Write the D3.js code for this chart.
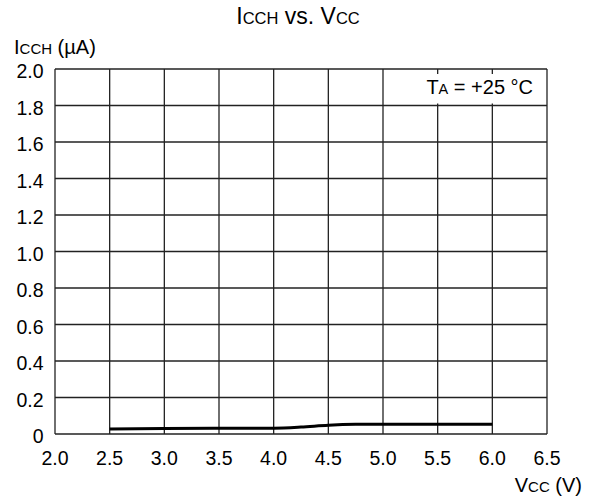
<!DOCTYPE html>
<html><head><meta charset="utf-8">
<script src="https://cdn.jsdelivr.net/npm/d3@7"></script>
<style>body{margin:0;background:#fff}svg{display:block;font-family:"Liberation Sans",Arial,sans-serif}</style>
</head><body>
<svg id="c" width="593" height="496"></svg>
<script>
const vcc = [2.5, 3.0, 3.5, 4.0, 4.25, 4.5, 4.75, 5.0, 5.5, 6.0];
const icch = [0.027, 0.030, 0.031, 0.032, 0.038, 0.048, 0.053, 0.054, 0.054, 0.054];
const xTicks = [2.0, 2.5, 3.0, 3.5, 4.0, 4.5, 5.0, 5.5, 6.0, 6.5];
const yTicks = [0, 0.2, 0.4, 0.6, 0.8, 1.0, 1.2, 1.4, 1.6, 1.8, 2.0];

const svg = d3.select("#c");
const L = 55, R = 547, T = 69, B = 434;
const x = d3.scaleLinear().domain([2.0, 6.5]).range([L, R]);
const y = d3.scaleLinear().domain([0, 2.0]).range([B, T]);
const gridColor = "#222";
const FS = 19.5;

// grid
svg.append("g").selectAll("line").data(xTicks).join("line")
  .attr("x1", d => x(d)).attr("x2", d => x(d)).attr("y1", T).attr("y2", B)
  .attr("stroke", gridColor).attr("stroke-width", 1.3);
svg.append("g").selectAll("line").data(yTicks).join("line")
  .attr("y1", d => y(d)).attr("y2", d => y(d)).attr("x1", L).attr("x2", R)
  .attr("stroke", gridColor).attr("stroke-width", 1.3);

// legend cell (covers the inner gridlines, leaving short stubs)
svg.append("rect").attr("x", x(5.0) + 1.5).attr("y", y(2.0) + 5)
  .attr("width", x(6.5) - x(5.0) - 3).attr("height", y(1.8) - y(2.0) - 7)
  .attr("fill", "#fff");
const lg = svg.append("text").attr("x", 533).attr("y", 94)
  .attr("text-anchor", "end").attr("font-size", 20).attr("fill", "#000");
lg.append("tspan").text("T");
lg.append("tspan").attr("font-size", 14.5).text("A");
lg.append("tspan").text(" = +25 °C");

// axes labels
svg.append("g").selectAll("text").data(yTicks).join("text")
  .attr("x", 43.5).attr("y", d => y(d) + 9).attr("text-anchor", "end")
  .attr("font-size", FS).text(d => d === 0 ? "0" : d.toFixed(1));
svg.append("g").selectAll("text").data(xTicks).join("text")
  .attr("x", d => x(d)).attr("y", 465).attr("text-anchor", "middle")
  .attr("font-size", FS).text(d => d.toFixed(1));

// curve
const line = d3.line().x((d, i) => x(vcc[i])).y(d => y(d)).curve(d3.curveMonotoneX);
svg.append("path").datum(icch).attr("d", line).attr("fill", "none")
  .attr("stroke", "#000").attr("stroke-width", 3);

// titles
const t = svg.append("text").attr("x", 298).attr("y", 23.5).attr("text-anchor", "middle")
  .attr("font-size", 23);
t.append("tspan").text("I");
t.append("tspan").attr("font-size", 16.5).text("CCH");
t.append("tspan").text(" vs. V");
t.append("tspan").attr("font-size", 16.5).text("CC");

const yt = svg.append("text").attr("x", 14).attr("y", 54).attr("font-size", 20);
yt.append("tspan").text("I");
yt.append("tspan").attr("font-size", 15).text("CCH");
yt.append("tspan").text(" (µA)");

const xt = svg.append("text").attr("x", 582).attr("y", 492).attr("text-anchor", "end").attr("font-size", 20);
xt.append("tspan").text("V");
xt.append("tspan").attr("font-size", 15).text("CC");
xt.append("tspan").text(" (V)");
</script>
</body></html>
